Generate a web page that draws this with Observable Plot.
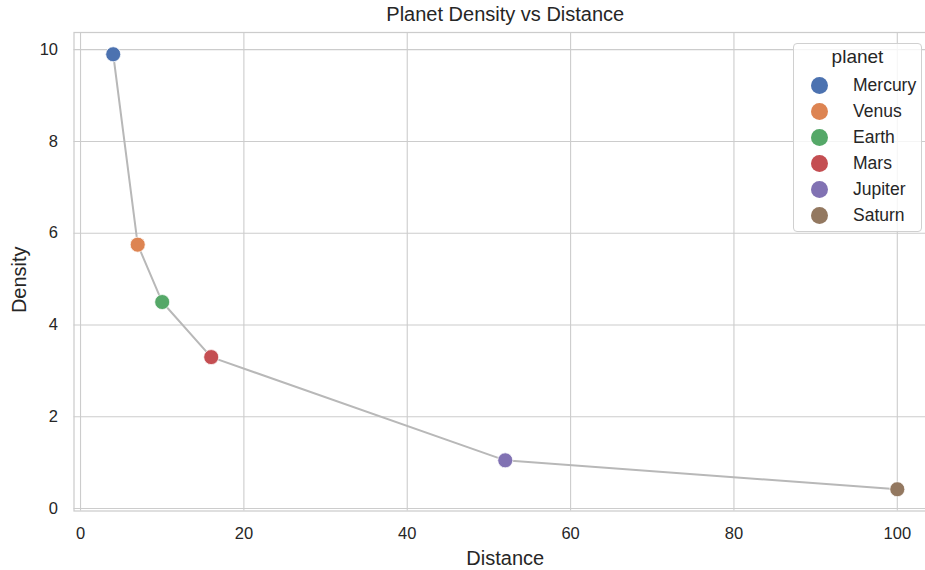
<!DOCTYPE html>
<html>
<head>
<meta charset="utf-8">
<script src="https://cdn.jsdelivr.net/npm/d3@7"></script>
<script src="https://cdn.jsdelivr.net/npm/@observablehq/plot@0.6"></script>
<style>
  html, body { margin: 0; padding: 0; background: white; overflow: hidden; }
  #wrap { position: relative; width: 925px; height: 570px; overflow: hidden; font-family: "Liberation Sans", Arial, sans-serif; }
  #wrap svg { max-width: none !important; }
  #legend { position: absolute; left: 793px; top: 43px; width: 129px; height: 189px; border: 1px solid #d0d0d0; border-radius: 4px; background: rgba(255,255,255,0.8); box-sizing: border-box; }
  #legend .title { position: absolute; left: 0; width: 100%; top: 2px; text-align: center; font-size: 19px; color: #262626; }
  #legend .item { position: absolute; left: 0; height: 26px; width: 100%; }
  #legend .sw { position: absolute; left: 17px; top: 4px; width: 17px; height: 17px; border-radius: 50%; }
  #legend .lab { position: absolute; left: 59px; top: 2px; font-size: 17.5px; color: #262626; white-space: nowrap; }
</style>
</head>
<body>
<div id="wrap"></div>
<script>
const planets = ["Mercury", "Venus", "Earth", "Mars", "Jupiter", "Saturn"];
const distance = [4, 7, 10, 16, 52, 100];
const density = [9.9, 5.75, 4.5, 3.3, 1.05, 0.42];
const colors = ["#4c72b0", "#dd8452", "#55a868", "#c44e52", "#8172b3", "#937860"];
const xTicks = [0, 20, 40, 60, 80, 100];
const yTicks = [0, 2, 4, 6, 8, 10];
const titleText = "Planet Density vs Distance";
const xLabel = "Distance";
const yLabel = "Density";
const legendTitle = "planet";

const data = planets.map((p, i) => ({planet: p, distance: distance[i], density: density[i]}));
const ink = "#262626";

const chart = Plot.plot({
  width: 940,
  height: 570,
  marginLeft: 73.5,
  marginRight: 4,
  marginTop: 32,
  marginBottom: 59.5,
  style: {fontFamily: "'Liberation Sans', Arial, sans-serif", fontSize: "16.5px", color: ink, background: "white", maxWidth: "none"},
  x: {domain: [-0.8, 104.8]},
  y: {domain: [-0.054, 10.374]},
  color: {domain: planets, range: colors},
  marks: [
    Plot.gridX(xTicks, {stroke: "#cccccc", strokeOpacity: 1, strokeWidth: 1.1}),
    Plot.gridY(yTicks, {stroke: "#cccccc", strokeOpacity: 1, strokeWidth: 1.1}),
    Plot.frame({stroke: "#cccccc", strokeWidth: 1.25}),
    Plot.axisX(xTicks, {tickSize: 0, tickPadding: 16, label: null, fill: ink}),
    Plot.axisY(yTicks, {tickSize: 0, tickPadding: 16, label: null, fill: ink}),
    Plot.line(data, {x: "distance", y: "density", stroke: "#b8b8b8", strokeWidth: 2}),
    Plot.dot(data, {x: "distance", y: "density", fill: "planet", r: 7.5, stroke: "white", strokeWidth: 0.75}),
    Plot.text([titleText], {text: d => d, frameAnchor: "top", dy: -17.5, lineAnchor: "middle", fontSize: 20, fill: ink}),
    Plot.text([xLabel], {text: d => d, frameAnchor: "bottom", dy: 47.5, lineAnchor: "middle", fontSize: 20, fill: ink}),
    Plot.text([yLabel], {text: d => d, frameAnchor: "left", textAnchor: "middle", dx: -54.5, dy: 8, rotate: -90, lineAnchor: "middle", fontSize: 20, fill: ink})
  ]
});

const wrap = document.getElementById("wrap");
wrap.appendChild(chart);

const legend = document.createElement("div");
legend.id = "legend";
const lt = document.createElement("div");
lt.className = "title";
lt.textContent = legendTitle;
legend.appendChild(lt);
planets.forEach((p, i) => {
  const item = document.createElement("div");
  item.className = "item";
  item.style.top = (29 + i * 26) + "px";
  const sw = document.createElement("div");
  sw.className = "sw";
  sw.style.background = colors[i];
  const lab = document.createElement("div");
  lab.className = "lab";
  lab.textContent = p;
  item.appendChild(sw);
  item.appendChild(lab);
  legend.appendChild(item);
});
wrap.appendChild(legend);
</script>
</body>
</html>
